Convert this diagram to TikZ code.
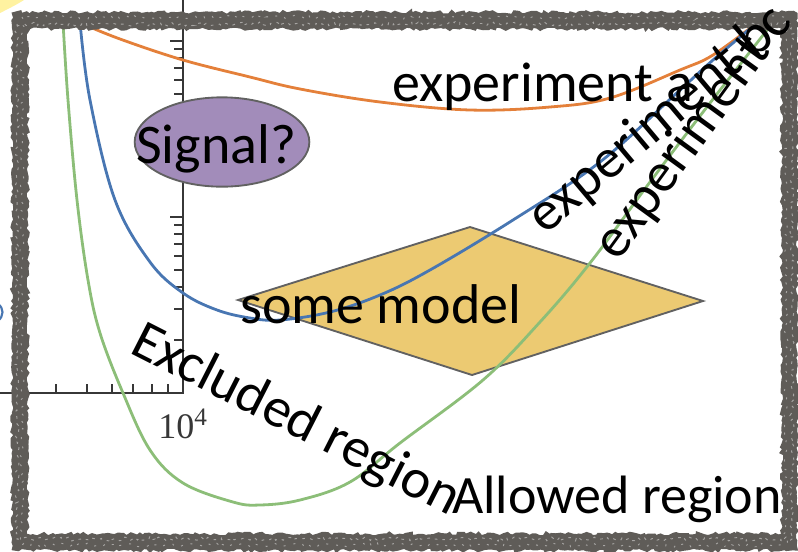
\documentclass[tikz,border=0pt]{standalone}
\usepackage{fontspec}
\setmainfont{Carlito}
\newfontfamily\timesf{Liberation Serif}
\usetikzlibrary{shapes.geometric,decorations.pathmorphing}
\definecolor{framegray}{RGB}{95,92,88}
\definecolor{axisc}{RGB}{55,55,55}
\definecolor{orangec}{RGB}{228,128,58}
\definecolor{bluec}{RGB}{72,118,178}
\definecolor{greenc}{RGB}{140,190,120}
\definecolor{purplec}{RGB}{162,140,186}
\definecolor{yellowc}{RGB}{236,202,114}
\definecolor{paleyellow}{RGB}{255,242,160}
\tikzset{
  lab/.style={font=\fontsize{42}{50}\selectfont, inner sep=0pt, text=black},
  curve/.style={line width=2.1pt, line cap=round},
  axisline/.style={draw=axisc, line width=1.2pt},
  tickline/.style={draw=axisc, line width=1pt},
  shapeborder/.style={draw=black!62, line width=1.4pt},
  roughedge/.style={framegray, line width=3pt, decorate, decoration={random steps, segment length=2.5pt, amplitude=1.3pt}},
  speckle/.style={white, line width=0.7pt, opacity=0.45, decorate, decoration={random steps, segment length=2pt, amplitude=1.5pt}},
}
\begin{document}
\begin{tikzpicture}[x=0.75pt,y=-0.75pt]
\useasboundingbox (0,0) rectangle (798,551);
\begin{scope}
\clip (0,0) rectangle (798,551);
% pale yellow corner
\fill[paleyellow] (0,0) -- (24,0) .. controls (16,5) and (8,9) .. (0,13) -- cycle;
% small blue mark at left edge
\draw[bluec, line width=1.6pt] (-2,304) .. controls (4,308) and (4,316) .. (-2,321);
% axes
\draw[axisline] (183,0) -- (183,393) -- (0,393);
\foreach \yy in {41,217}
  \draw[tickline] (170,\yy) -- (183,\yy);
\foreach \yy in {49,58,68,80,94,111,133,164,225,234,244,256,270,287,309,340}
  \draw[tickline] (174,\yy) -- (183,\yy);
\foreach \xx in {16,56,87,112,133,152,168}
  \draw[tickline] (\xx,393) -- (\xx,384);
\node[font=\timesf\fontsize{27}{30}\selectfont, text=axisc, anchor=base west, inner sep=0pt] (tenfour) at (158,438) {10\textsuperscript{4}};
% signal ellipse
\node[ellipse, shapeborder, fill=purplec, minimum width=131pt, minimum height=67pt, inner sep=0pt] (sig) at (222,142) {};
\node[lab, anchor=base west] (sigtext) at (136,163) {Signal?};
% model diamond
\draw[shapeborder, fill=yellowc] (238,300) -- (470,227) -- (703,301) -- (472,375) -- cycle;
% curves
\draw[curve, orangec] plot[smooth, tension=0.6] coordinates {(78,22) (120,39) (183,60) (250,77) (300,89) (380,102) (470,110) (550,107) (610,98) (680,70) (713,55) (758,22)};
\draw[curve, bluec] plot[smooth, tension=0.6] coordinates {(80,22) (90,100) (115,200) (150,262) (183,293) (217,310) (250,318) (280,320) (330,312) (380,295) (430,270) (513,220) (600,162) (680,90) (713,60) (758,22)};
\draw[curve, greenc] plot[smooth, tension=0.6] coordinates {(63,22) (68,100) (77,200) (88,280) (100,333) (123,393) (150,450) (183,483) (233,502) (260,505) (300,500) (350,482) (400,443) (483,380) (540,322) (590,263) (650,182) (710,103) (775,20)};
% chalky frame
\draw[framegray, line width=10pt, line join=miter] (20,20.5) rectangle (789.5,542);
\draw[roughedge] (14,14) rectangle (795.5,548.5);
\draw[roughedge] (26,27) rectangle (783.5,535.5);
\draw[speckle, dash pattern=on 2pt off 4pt] (17,24) rectangle (792,539);
\draw[speckle, dash pattern=on 1.5pt off 6pt] (22,17) rectangle (786,545);
% labels
\node[lab, anchor=base west] (expa) at (392,101) {experiment a};
\node[lab, anchor=base west, rotate=40] (expb) at (545,236) {experiment b};
\node[lab, anchor=base west, rotate=54] (expc) at (618,263) {experiment c};
\node[lab, anchor=base west] (model) at (240,323) {some model};
\node[lab, anchor=base west, rotate=-27] (excl) at (128,352) {Excluded region};
\node[lab, anchor=base west, font=\fontsize{40.5}{48}\selectfont] (allow) at (452,513) {Allowed region};
\end{scope}
\end{tikzpicture}
\end{document}
